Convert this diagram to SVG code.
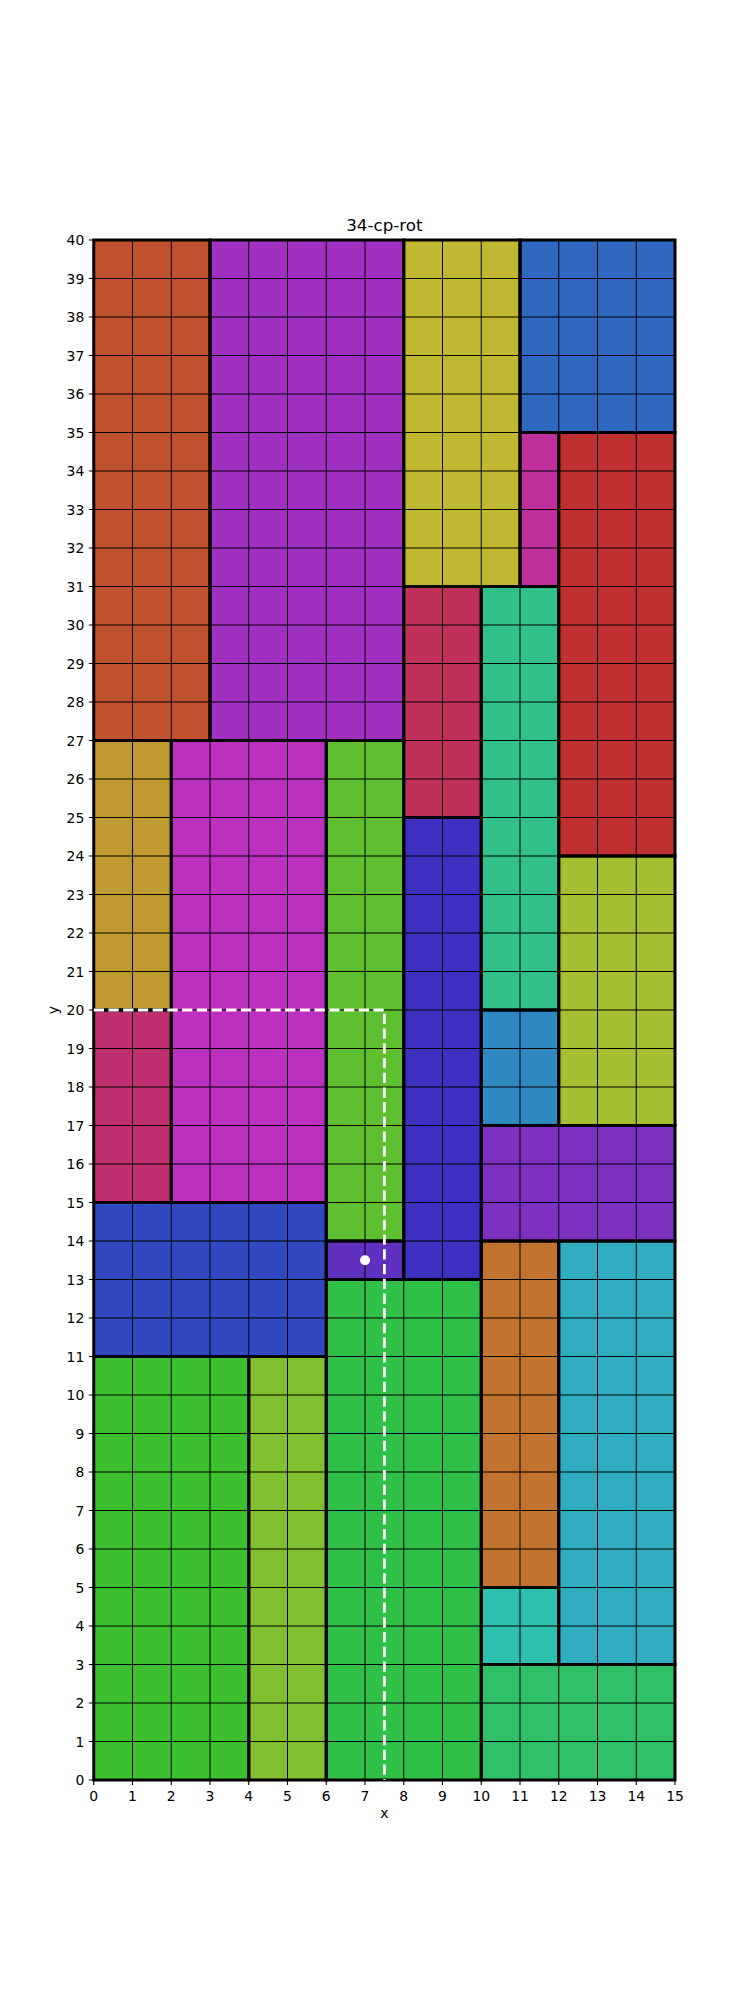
<svg xmlns="http://www.w3.org/2000/svg" width="750" height="2000" viewBox="0 0 750 2000">
<style>
.n{stroke:#000;stroke-width:3}
.t{font-family:"DejaVu Sans",sans-serif;font-size:13.9px;fill:#000}
.xt{text-anchor:middle}
.yt{text-anchor:end}
</style>
<rect width="750" height="2000" fill="#fff"/>
<g id="nodes">
<g id="n1"><rect x="93.75" y="240" width="116.25" height="500.5" fill="#c05230"/></g>
<g id="n2"><rect x="210" y="240" width="193.75" height="500.5" fill="#a030c0"/></g>
<g id="n3"><rect x="403.75" y="240" width="116.25" height="346.5" fill="#c0b830"/></g>
<g id="n4"><rect x="520" y="240" width="155" height="192.5" fill="#3068c0"/></g>
<g id="n5"><rect x="520" y="432.5" width="38.75" height="154" fill="#c0309c"/></g>
<g id="n6"><rect x="558.75" y="432.5" width="116.25" height="423.5" fill="#c03030"/></g>
<g id="n7"><rect x="403.75" y="586.5" width="77.5" height="231" fill="#c03058"/></g>
<g id="n8"><rect x="481.25" y="586.5" width="77.5" height="423.5" fill="#30c088"/></g>
<g id="n9"><rect x="93.75" y="740.5" width="77.5" height="269.5" fill="#c09a30"/></g>
<g id="n10"><rect x="171.25" y="740.5" width="155" height="462" fill="#bc30c0"/></g>
<g id="n11"><rect x="326.25" y="740.5" width="77.5" height="500.5" fill="#5ec030"/></g>
<g id="n12"><rect x="403.75" y="817.5" width="77.5" height="462" fill="#3c30c0"/></g>
<g id="n13"><rect x="558.75" y="856" width="116.25" height="269.5" fill="#a4c030"/></g>
<g id="n14"><rect x="481.25" y="1010" width="77.5" height="115.5" fill="#3088c0"/></g>
<g id="n15"><rect x="93.75" y="1010" width="77.5" height="192.5" fill="#c03070"/></g>
<g id="n16"><rect x="481.25" y="1125.5" width="193.75" height="115.5" fill="#7c30c0"/></g>
<g id="n17"><rect x="93.75" y="1202.5" width="232.5" height="154" fill="#3048c0"/></g>
<g id="n18"><rect x="326.25" y="1241" width="77.5" height="38.5" fill="#6030c0"/></g>
<g id="n19"><rect x="481.25" y="1241" width="77.5" height="346.5" fill="#c07430"/></g>
<g id="n20"><rect x="558.75" y="1241" width="116.25" height="423.5" fill="#30acc0"/></g>
<g id="n21"><rect x="93.75" y="1356.5" width="155" height="423.5" fill="#3cc030"/></g>
<g id="n22"><rect x="248.75" y="1356.5" width="77.5" height="423.5" fill="#80c030"/></g>
<g id="n23"><rect x="326.25" y="1279.5" width="155" height="500.5" fill="#30c048"/></g>
<g id="n24"><rect x="481.25" y="1587.5" width="77.5" height="77" fill="#30c0b0"/></g>
<g id="n25"><rect x="481.25" y="1664.5" width="193.75" height="115.5" fill="#30c068"/></g>
</g>
<g id="grid" stroke="#000" stroke-width="1" fill="none">
<path d="M132.5,240V1780M171.25,240V1780M210,240V1780M248.75,240V1780M287.5,240V1780M326.25,240V1780M365,240V1780M403.75,240V1780M442.5,240V1780M481.25,240V1780M520,240V1780M558.75,240V1780M597.5,240V1780M636.25,240V1780"/>
<path d="M93.75,1741.5H675M93.75,1703H675M93.75,1664.5H675M93.75,1626H675M93.75,1587.5H675M93.75,1549H675M93.75,1510.5H675M93.75,1472H675M93.75,1433.5H675M93.75,1395H675M93.75,1356.5H675M93.75,1318H675M93.75,1279.5H675M93.75,1241H675M93.75,1202.5H675M93.75,1164H675M93.75,1125.5H675M93.75,1087H675M93.75,1048.5H675M93.75,1010H675M93.75,971.5H675M93.75,933H675M93.75,894.5H675M93.75,856H675M93.75,817.5H675M93.75,779H675M93.75,740.5H675M93.75,702H675M93.75,663.5H675M93.75,625H675M93.75,586.5H675M93.75,548H675M93.75,509.5H675M93.75,471H675M93.75,432.5H675M93.75,394H675M93.75,355.5H675M93.75,317H675M93.75,278.5H675"/>
</g>
<g id="borders" fill="none">
<rect class="n" x="93.75" y="240" width="116.25" height="500.5"/>
<rect class="n" x="210" y="240" width="193.75" height="500.5"/>
<rect class="n" x="403.75" y="240" width="116.25" height="346.5"/>
<rect class="n" x="520" y="240" width="155" height="192.5"/>
<rect class="n" x="520" y="432.5" width="38.75" height="154"/>
<rect class="n" x="558.75" y="432.5" width="116.25" height="423.5"/>
<rect class="n" x="403.75" y="586.5" width="77.5" height="231"/>
<rect class="n" x="481.25" y="586.5" width="77.5" height="423.5"/>
<rect class="n" x="93.75" y="740.5" width="77.5" height="269.5"/>
<rect class="n" x="171.25" y="740.5" width="155" height="462"/>
<rect class="n" x="326.25" y="740.5" width="77.5" height="500.5"/>
<rect class="n" x="403.75" y="817.5" width="77.5" height="462"/>
<rect class="n" x="558.75" y="856" width="116.25" height="269.5"/>
<rect class="n" x="481.25" y="1010" width="77.5" height="115.5"/>
<rect class="n" x="93.75" y="1010" width="77.5" height="192.5"/>
<rect class="n" x="481.25" y="1125.5" width="193.75" height="115.5"/>
<rect class="n" x="93.75" y="1202.5" width="232.5" height="154"/>
<rect class="n" x="326.25" y="1241" width="77.5" height="38.5"/>
<rect class="n" x="481.25" y="1241" width="77.5" height="346.5"/>
<rect class="n" x="558.75" y="1241" width="116.25" height="423.5"/>
<rect class="n" x="93.75" y="1356.5" width="155" height="423.5"/>
<rect class="n" x="248.75" y="1356.5" width="77.5" height="423.5"/>
<rect class="n" x="326.25" y="1279.5" width="155" height="500.5"/>
<rect class="n" x="481.25" y="1587.5" width="77.5" height="77"/>
<rect class="n" x="481.25" y="1664.5" width="193.75" height="115.5"/>
</g>
<g id="connectors">
<path d="M93.75,1010H384.375V1780" fill="none" stroke="#fff" stroke-width="2.78" stroke-dasharray="10.28 4.44"/>
</g>
<circle id="marker" cx="365" cy="1260.25" r="5" fill="#fff"/>
<g id="ticks" stroke="#000" stroke-width="1.1">
<path d="M93.75,1780v4.9M132.5,1780v4.9M171.25,1780v4.9M210,1780v4.9M248.75,1780v4.9M287.5,1780v4.9M326.25,1780v4.9M365,1780v4.9M403.75,1780v4.9M442.5,1780v4.9M481.25,1780v4.9M520,1780v4.9M558.75,1780v4.9M597.5,1780v4.9M636.25,1780v4.9M675,1780v4.9"/>
<path d="M93.75,1780h-4.9M93.75,1741.5h-4.9M93.75,1703h-4.9M93.75,1664.5h-4.9M93.75,1626h-4.9M93.75,1587.5h-4.9M93.75,1549h-4.9M93.75,1510.5h-4.9M93.75,1472h-4.9M93.75,1433.5h-4.9M93.75,1395h-4.9M93.75,1356.5h-4.9M93.75,1318h-4.9M93.75,1279.5h-4.9M93.75,1241h-4.9M93.75,1202.5h-4.9M93.75,1164h-4.9M93.75,1125.5h-4.9M93.75,1087h-4.9M93.75,1048.5h-4.9M93.75,1010h-4.9M93.75,971.5h-4.9M93.75,933h-4.9M93.75,894.5h-4.9M93.75,856h-4.9M93.75,817.5h-4.9M93.75,779h-4.9M93.75,740.5h-4.9M93.75,702h-4.9M93.75,663.5h-4.9M93.75,625h-4.9M93.75,586.5h-4.9M93.75,548h-4.9M93.75,509.5h-4.9M93.75,471h-4.9M93.75,432.5h-4.9M93.75,394h-4.9M93.75,355.5h-4.9M93.75,317h-4.9M93.75,278.5h-4.9M93.75,240h-4.9"/>
</g>
<g id="xticklabels" class="t xt">
<text x="93.75" y="1801">0</text><text x="132.5" y="1801">1</text><text x="171.25" y="1801">2</text><text x="210" y="1801">3</text><text x="248.75" y="1801">4</text><text x="287.5" y="1801">5</text><text x="326.25" y="1801">6</text><text x="365" y="1801">7</text><text x="403.75" y="1801">8</text><text x="442.5" y="1801">9</text><text x="481.25" y="1801">10</text><text x="520" y="1801">11</text><text x="558.75" y="1801">12</text><text x="597.5" y="1801">13</text><text x="636.25" y="1801">14</text><text x="675" y="1801">15</text>
</g>
<g id="yticklabels" class="t yt">
<text x="84.3" y="1785">0</text><text x="84.3" y="1746.5">1</text><text x="84.3" y="1708">2</text><text x="84.3" y="1669.5">3</text><text x="84.3" y="1631">4</text><text x="84.3" y="1592.5">5</text><text x="84.3" y="1554">6</text><text x="84.3" y="1515.5">7</text><text x="84.3" y="1477">8</text><text x="84.3" y="1438.5">9</text><text x="84.3" y="1400">10</text><text x="84.3" y="1361.5">11</text><text x="84.3" y="1323">12</text><text x="84.3" y="1284.5">13</text><text x="84.3" y="1246">14</text><text x="84.3" y="1207.5">15</text><text x="84.3" y="1169">16</text><text x="84.3" y="1130.5">17</text><text x="84.3" y="1092">18</text><text x="84.3" y="1053.5">19</text><text x="84.3" y="1015">20</text><text x="84.3" y="976.5">21</text><text x="84.3" y="938">22</text><text x="84.3" y="899.5">23</text><text x="84.3" y="861">24</text><text x="84.3" y="822.5">25</text><text x="84.3" y="784">26</text><text x="84.3" y="745.5">27</text><text x="84.3" y="707">28</text><text x="84.3" y="668.5">29</text><text x="84.3" y="630">30</text><text x="84.3" y="591.5">31</text><text x="84.3" y="553">32</text><text x="84.3" y="514.5">33</text><text x="84.3" y="476">34</text><text x="84.3" y="437.5">35</text><text x="84.3" y="399">36</text><text x="84.3" y="360.5">37</text><text x="84.3" y="322">38</text><text x="84.3" y="283.5">39</text><text x="84.3" y="245">40</text>
</g>
<text class="t xt" x="384.375" y="1818">x</text>
<text class="t xt" x="58" y="1010" transform="rotate(-90 58 1010)">y</text>
<text x="384.375" y="231" font-family="DejaVu Sans, sans-serif" font-size="16.7" text-anchor="middle">34-cp-rot</text>
</svg>
